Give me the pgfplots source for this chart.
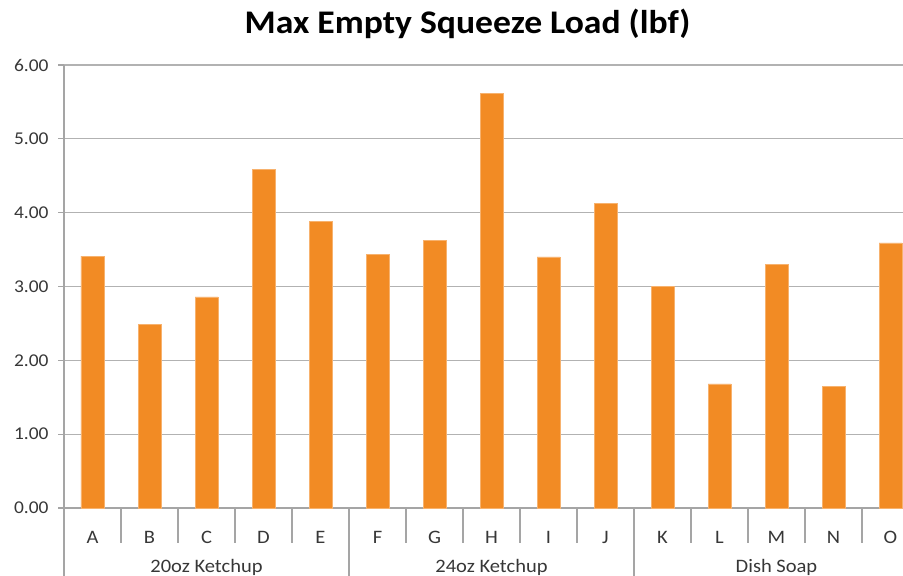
\documentclass[border=0pt]{standalone}
\usepackage{pgfplots}
\pgfplotsset{compat=1.18}
\usepackage{fontspec}
\setmainfont{Carlito}[FakeStretch=1.08]
\definecolor{barorange}{RGB}{242,139,36}
\definecolor{baredge}{RGB}{247,178,110}
\definecolor{gridgray}{RGB}{178,178,178}
\definecolor{axisgray}{RGB}{165,165,165}
\definecolor{labelgray}{RGB}{55,55,55}

\begin{document}
\begin{tikzpicture}
\begin{axis}[
  at={(64pt,68pt)}, anchor=south west,
  scale only axis, width=855pt, height=443pt,
  xmin=-0.5, xmax=14.5, ymin=0, ymax=6,
  ybar, bar width=23pt,
  axis x line*=bottom, axis y line*=left,
  axis line style={axisgray, line width=1.2pt},
  xtick=data,
  xticklabels={A,B,C,D,E,F,G,H,I,J,K,L,M,N,O},
  x tick style={draw=none},
  xticklabel style={anchor=base, yshift=-29pt, font=\fontsize{19}{21}\selectfont, text=labelgray},
  ytick={0,1,2,3,4,5,6},
  y tick style={axisgray, line width=1.2pt},
  tick align=outside, major tick length=6pt,
  yticklabel style={anchor=east, xshift=-6pt, font=\fontsize{18}{20}\selectfont, text=labelgray,
    /pgf/number format/fixed, /pgf/number format/fixed zerofill,
    /pgf/number format/precision=2, /pgf/number format/assume math mode=true},
  ymajorgrids, grid style={gridgray, line width=1.2pt},
  clip=false,
]
\addplot[fill=barorange, draw=baredge, line width=0.6pt] coordinates {
  (0,3.41) (1,2.49) (2,2.86) (3,4.59) (4,3.88)
  (5,3.43) (6,3.62) (7,5.61) (8,3.40) (9,4.13)
  (10,3.00) (11,1.68) (12,3.30) (13,1.65) (14,3.59)
};
% category dividers
\pgfplotsinvokeforeach{0.5,1.5,2.5,3.5,5.5,6.5,7.5,8.5,10.5,11.5,12.5,13.5}{
  \draw[axisgray, line width=1.2pt] (axis cs:#1,0) -- ++(0pt,-35pt);
}
% group dividers
\pgfplotsinvokeforeach{-0.5,4.5,9.5}{
  \draw[axisgray, line width=1.2pt] (axis cs:#1,0) -- ++(0pt,-75pt);
}
\node[anchor=base, font=\fontsize{19}{21}\selectfont, text=labelgray] at ([yshift=-64pt]axis cs:2,0) {20oz Ketchup};
\node[anchor=base, font=\fontsize{19}{21}\selectfont, text=labelgray] at ([yshift=-64pt]axis cs:7,0) {24oz Ketchup};
\node[anchor=base, font=\fontsize{19}{21}\selectfont, text=labelgray] at ([yshift=-64pt]axis cs:12,0) {Dish Soap};
\end{axis}
\node[anchor=base, font=\bfseries\fontsize{33}{36}\selectfont] at (467.5pt,542pt) {Max Empty Squeeze Load (lbf)};
\pgfresetboundingbox
\useasboundingbox (0pt,0pt) rectangle (903pt,576pt);
\end{tikzpicture}
\end{document}
